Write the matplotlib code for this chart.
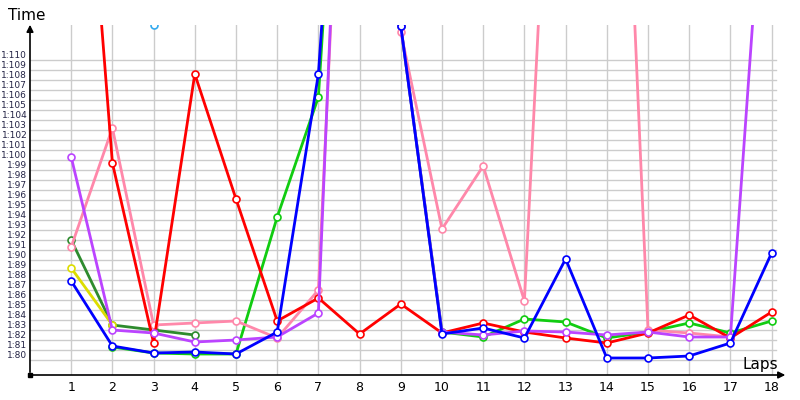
import numpy as np
import matplotlib
matplotlib.use("Agg")
import matplotlib.pyplot as plt

nan = np.nan
laps = list(range(1, 19))

# lap times in seconds
red = [152, 99.2, 81.2, 108.1, 95.6, 83.4, 85.7, 82.1, 85.1, 82.2, 83.2, 82.3, 81.7, 81.2, 82.2, 84.0, 81.7, 84.3]
green = [nan, 80.8, 80.2, 80.1, 80.1, 93.8, 105.8, 171, 112.9, 82.3, 81.8, 83.6, 83.3, 81.7, 82.3, 83.2, 82.2, 83.4]
blue = [87.4, 80.9, 80.2, 80.3, 80.1, 82.3, 108.1, 168, 112.9, 82.1, 82.7, 81.7, 89.6, 79.7, 79.7, 79.9, 81.2, 90.2]
purple = [99.8, 82.5, 82.2, 81.3, 81.5, 81.8, 84.2, 184, 112.9, 82.3, 82.0, 82.4, 82.3, 82.0, 82.3, 81.8, 81.8, 140]
pink = [90.8, 102.7, 83.0, 83.2, 83.4, 81.7, 86.5, 175, 112.3, 92.6, 98.9, 85.4, 167, 178, 82.5, 82.2, 81.8, nan]
darkgreen = [91.5, 83.0, 82.5, 82.0] + [nan] * 14
yellow = [88.7, 83.0] + [nan] * 16
sky = [nan, 170, 113, 170] + [nan] * 14

series = [
    (darkgreen, "#2e8b2e"),
    (yellow, "#dddd00"),
    (sky, "#33aaee"),
    (green, "#11cc11"),
    (pink, "#ff88aa"),
    (red, "#ff0000"),
    (purple, "#bb44ff"),
    (blue, "#0000ff"),
]

fig = plt.figure(figsize=(8, 4), dpi=100)
ax = fig.add_axes([30 / 800, 25 / 400, 750 / 800, 350 / 400])
ax.set_xlim(0, 750 / 41.2)
ax.set_ylim(78, 113)

for lap in laps:
    ax.plot([lap, lap], [78, 113], color="#cccccc", lw=1, zorder=0)
for s in np.arange(79.5, 110, 1.0):
    ax.plot([0, 18.1], [s, s], color="#cccccc", lw=1, zorder=0)

for vals, col in series:
    ax.plot(laps, vals, color=col, lw=2, marker="o", ms=5,
            mfc="white", mec=col, mew=1.2, zorder=3)

for sp in ax.spines.values():
    sp.set_visible(False)
ax.set_xticks(laps)
ax.set_xticklabels([str(l) for l in laps], fontsize=9)
yt = list(range(80, 111))
ax.set_yticks(yt)
ax.set_yticklabels(["1:%02d" % v for v in yt], fontsize=6.5, color="#222244")
ax.tick_params(length=0, pad=4)
ax.tick_params(axis="y", pad=2)

ax.annotate("", xy=(0, 113.3), xytext=(0, 78), xycoords="data",
            arrowprops=dict(arrowstyle="-|>", color="black", lw=1.2), annotation_clip=False)
ax.annotate("", xy=(18.4, 78), xytext=(0, 78), xycoords="data",
            arrowprops=dict(arrowstyle="-|>", color="black", lw=1.2), annotation_clip=False)
ax.plot([0], [78], marker="s", color="black", ms=3, clip_on=False)

fig.text(8 / 800, 1 - 16 / 400, "Time", fontsize=11, va="center")
fig.text(742 / 800, 1 - 364 / 400, "Laps", fontsize=11, va="center")

fig.savefig("out.png", dpi=100)
